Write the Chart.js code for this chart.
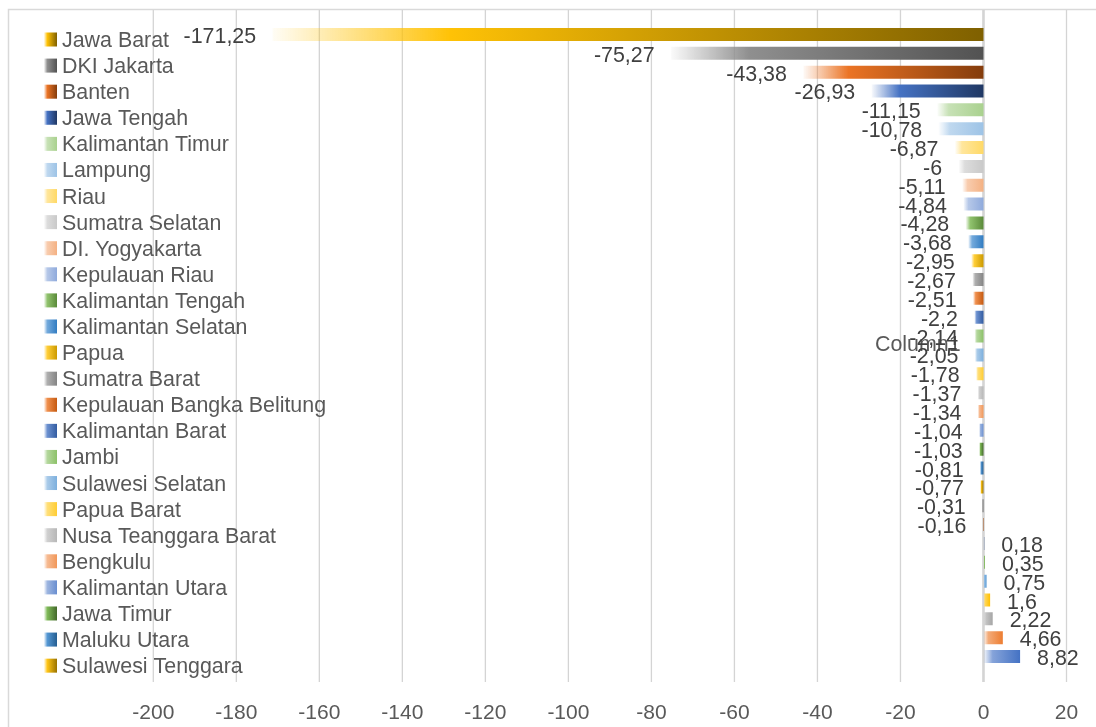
<!DOCTYPE html>
<html>
<head>
<meta charset="utf-8">
<script src="https://cdn.jsdelivr.net/npm/chart.js@4.4.1/dist/chart.umd.min.js"></script>
<style>
  html, body { margin: 0; padding: 0; background: #ffffff; }
  #wrap { position: relative; width: 1096px; height: 727px; }
  canvas { display: block; }
</style>
</head>
<body>
<div id="wrap"><canvas id="c" width="1096" height="727"></canvas></div>
<script>
// ---- data ----
const legendNames = [
  'Jawa Barat', 'DKI Jakarta', 'Banten', 'Jawa Tengah', 'Kalimantan Timur',
  'Lampung', 'Riau', 'Sumatra Selatan', 'DI. Yogyakarta', 'Kepulauan Riau',
  'Kalimantan Tengah', 'Kalimantan Selatan', 'Papua', 'Sumatra Barat',
  'Kepulauan Bangka Belitung', 'Kalimantan Barat', 'Jambi', 'Sulawesi Selatan',
  'Papua Barat', 'Nusa Teanggara Barat', 'Bengkulu', 'Kalimantan Utara',
  'Jawa Timur', 'Maluku Utara', 'Sulawesi Tenggara'
];
// the last nine category names are not visible in the picture
const hiddenNames = ['', '', '', '', '', '', '', '', ''];
const categories = legendNames.concat(hiddenNames);
const values = [
  -171.25, -75.27, -43.38, -26.93, -11.15, -10.78, -6.87, -6, -5.11, -4.84,
  -4.28, -3.68, -2.95, -2.67, -2.51, -2.2, -2.14, -2.05, -1.78, -1.37,
  -1.34, -1.04, -1.03, -0.81, -0.77, -0.31, -0.16, 0.18, 0.35, 0.75,
  1.6, 2.22, 4.66, 8.82
];
const xMin = -200, xMax = 20, xStep = 20;
const seriesName = 'Column1';

// ---- styles ----
const barColors = [
  '#7F6000', '#525252', '#843C0C', '#203864', '#A9D18E', '#9DC3E6', '#FFD966',
  '#C9C9C9', '#F4B183', '#8FAADC', '#5A8A39', '#317CC2', '#CC9A00', '#848484',
  '#C55A11', '#335CA1', '#8CC168', '#7CAFDD', '#FFCD33', '#B7B7B7', '#F19759',
  '#698ED0', '#43682B', '#255E91', '#997300', '#636363', '#9E480E', '#264478',
  '#70AD47', '#5B9BD5', '#FFC000', '#A5A5A5', '#ED7D31', '#4472C4'
];
const FONT = '"Liberation Sans", Arial, sans-serif';

function hexToRgb(h) {
  h = h.replace('#', '');
  return [parseInt(h.substr(0, 2), 16), parseInt(h.substr(2, 2), 16), parseInt(h.substr(4, 2), 16)];
}
function rgbToHsl(r, g, b) {
  r /= 255; g /= 255; b /= 255;
  const mx = Math.max(r, g, b), mn = Math.min(r, g, b);
  let h = 0, s = 0; const l = (mx + mn) / 2;
  if (mx !== mn) {
    const d = mx - mn;
    s = l > 0.5 ? d / (2 - mx - mn) : d / (mx + mn);
    if (mx === r) h = (g - b) / d + (g < b ? 6 : 0);
    else if (mx === g) h = (b - r) / d + 2;
    else h = (r - g) / d + 4;
    h /= 6;
  }
  return [h, s, l];
}
function hslToRgb(h, s, l) {
  if (s === 0) { const v = Math.round(l * 255); return [v, v, v]; }
  const hue2rgb = (p, q, t) => {
    if (t < 0) t += 1; if (t > 1) t -= 1;
    if (t < 1 / 6) return p + (q - p) * 6 * t;
    if (t < 1 / 2) return q;
    if (t < 2 / 3) return p + (q - p) * (2 / 3 - t) * 6;
    return p;
  };
  const q = l < 0.5 ? l * (1 + s) : l + s - l * s;
  const p = 2 * l - q;
  return [Math.round(hue2rgb(p, q, h + 1 / 3) * 255), Math.round(hue2rgb(p, q, h) * 255), Math.round(hue2rgb(p, q, h - 1 / 3) * 255)];
}
function midColor(hex) {
  const [r, g, b] = hexToRgb(hex);
  const [h, s, l] = rgbToHsl(r, g, b);
  return hslToRgb(h, s, l + (1 - l) * 0.35);
}
function makeGradient(ctx, left, right, hex) {
  const g = ctx.createLinearGradient(left, 0, right, 0);
  const m = midColor(hex);
  g.addColorStop(0, 'rgba(' + m[0] + ',' + m[1] + ',' + m[2] + ',0.04)');
  g.addColorStop(0.25, 'rgb(' + m[0] + ',' + m[1] + ',' + m[2] + ')');
  g.addColorStop(1, hex);
  return g;
}
function fmt(v) { return String(v).replace('.', ','); }

const decorPlugin = {
  id: 'decor',
  beforeDraw(chart) {
    const ctx = chart.ctx;
    ctx.save();
    ctx.strokeStyle = '#D9D9D9';
    ctx.lineWidth = 1.5;
    ctx.beginPath();
    ctx.moveTo(8.5, 740); ctx.lineTo(8.5, 9.5); ctx.lineTo(1100, 9.5);
    ctx.stroke();
    ctx.restore();
  },
  beforeDatasetsDraw(chart) {
    const ctx = chart.ctx, xs = chart.scales.x;
    ctx.save();
    xs.ticks.forEach(t => {
      const x = xs.getPixelForValue(t.value);
      ctx.beginPath();
      ctx.strokeStyle = '#D4D4D4';
      ctx.lineWidth = t.value === 0 ? 2.6 : 1.3;
      ctx.moveTo(x, 10); ctx.lineTo(x, 682);
      ctx.stroke();
    });
    ctx.restore();
  },
  afterDatasetsDraw(chart) {
    const ctx = chart.ctx;
    const meta = chart.getDatasetMeta(0);
    ctx.save();
    // series name
    ctx.font = '21.4px ' + FONT;
    ctx.fillStyle = '#595959';
    ctx.textAlign = 'left';
    ctx.textBaseline = 'alphabetic';
    ctx.fillText(seriesName, 875, 351);
    // data labels
    ctx.fillStyle = '#404040';
    meta.data.forEach((el, i) => {
      const v = values[i];
      if (v < 0) { ctx.textAlign = 'right'; ctx.fillText(fmt(v), el.x - 16.5, el.y + 8.5); }
      else { ctx.textAlign = 'left'; ctx.fillText(fmt(v), el.x + 17, el.y + 8.5); }
    });
    // legend
    ctx.textAlign = 'left';
    legendNames.forEach((name, i) => {
      const cy = 39.5 + i * 26.09;
      ctx.fillStyle = makeGradient(ctx, 44, 57, barColors[i]);
      ctx.fillRect(44, cy - 7, 13, 14);
      ctx.fillStyle = '#595959';
      ctx.fillText(name, 62, cy + 7.5);
    });
    ctx.restore();
  }
};

new Chart(document.getElementById('c'), {
  type: 'bar',
  data: {
    labels: categories,
    datasets: [{
      label: seriesName,
      data: values,
      categoryPercentage: 1,
      barPercentage: 0.69,
      borderWidth: 0,
      backgroundColor: (c) => {
        const chart = c.chart;
        const hex = barColors[c.dataIndex] || '#999999';
        if (!chart.chartArea || c.type !== 'data') return hex;
        const xs = chart.scales.x;
        const p0 = xs.getPixelForValue(0), p1 = xs.getPixelForValue(c.raw);
        const l = Math.min(p0, p1), r = Math.max(p0, p1);
        if (r - l < 0.5) return hex;
        return makeGradient(chart.ctx, l, r, hex);
      }
    }]
  },
  options: {
    indexAxis: 'y',
    responsive: false,
    animation: false,
    layout: { padding: { left: 153.3, right: 29.5, top: 25, bottom: 0 } },
    plugins: { legend: { display: false }, tooltip: { enabled: false } },
    scales: {
      x: {
        type: 'linear',
        min: xMin, max: xMax,
        ticks: { stepSize: xStep, color: '#595959', font: { family: FONT, size: 21 }, padding: 35 },
        grid: { display: false, drawTicks: false },
        border: { display: false },
        afterFit: (s) => { s.height = 61; s.paddingLeft = 0; s.paddingRight = 0; }
      },
      y: {
        display: false,
        grid: { display: false }
      }
    }
  },
  plugins: [decorPlugin]
});
</script>
</body>
</html>
